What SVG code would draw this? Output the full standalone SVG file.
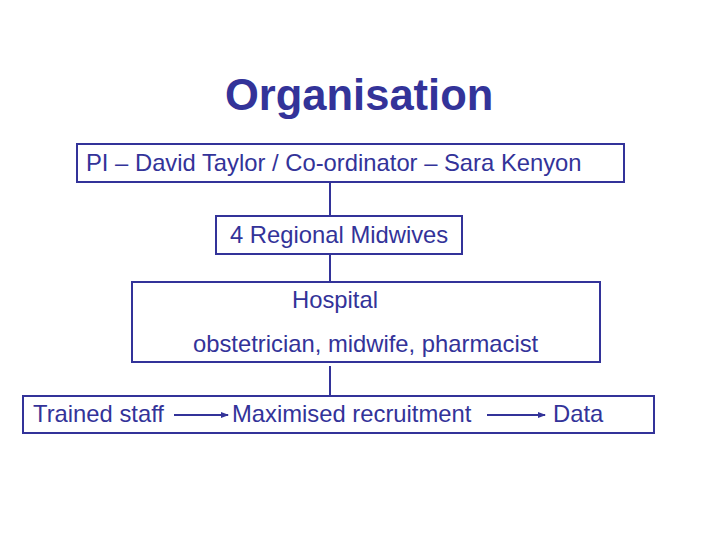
<svg xmlns="http://www.w3.org/2000/svg" width="720" height="540" viewBox="0 0 720 540">
<style>
.box{fill:#fff;stroke:#333399;stroke-width:2}
.t{font-family:"Liberation Sans",Arial,sans-serif;font-size:23.8px;fill:#333399}
.title{font-family:"Liberation Sans",Arial,sans-serif;font-size:43.5px;font-weight:bold;fill:#333399}
.c{stroke:#333399;stroke-width:2;fill:none}
</style>
<defs>
<marker id="ah" markerWidth="8" markerHeight="6" refX="7" refY="3" orient="auto" markerUnits="userSpaceOnUse">
<path d="M0,0 L8,3 L0,6 z" fill="#333399"/>
</marker>
</defs>
<rect width="720" height="540" fill="#fff"/>
<text class="title" x="225" y="110">Organisation</text>
<g id="connectors">
<line class="c" x1="330" y1="182" x2="330" y2="216"/>
<line class="c" x1="330" y1="254" x2="330" y2="282"/>
<line class="c" x1="330" y1="366" x2="330" y2="395"/>
</g>
<g id="pi">
<rect class="box" x="77" y="144" width="547" height="38"/>
<text class="t" x="86" y="171">PI – David Taylor / Co-ordinator – Sara Kenyon</text>
</g>
<g id="midwives">
<rect class="box" x="216" y="216" width="246" height="38"/>
<text class="t" x="230" y="243">4 Regional Midwives</text>
</g>
<g id="hospital">
<rect class="box" x="132" y="282" width="468" height="80"/>
<text class="t" x="292" y="308">Hospital</text>
<text class="t" x="193" y="352">obstetrician, midwife, pharmacist</text>
</g>
<g id="outcome">
<rect class="box" x="23" y="396" width="631" height="37"/>
<text class="t" x="33" y="422">Trained staff</text>
<text class="t" x="232" y="422">Maximised recruitment</text>
<text class="t" x="553" y="422">Data</text>
<line class="c" x1="174" y1="415" x2="228" y2="415" stroke-width="1.5" marker-end="url(#ah)"/>
<line class="c" x1="487" y1="415" x2="545" y2="415" stroke-width="1.5" marker-end="url(#ah)"/>
</g>
</svg>
